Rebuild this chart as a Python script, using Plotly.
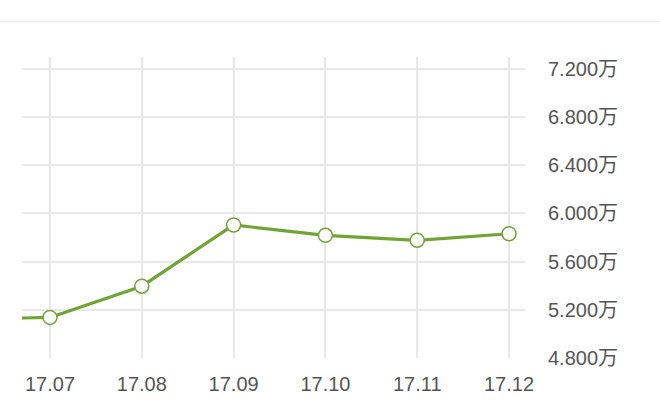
import plotly.graph_objects as go

months = ["17.06", "17.07", "17.08", "17.09", "17.10", "17.11", "17.12"]
values = [5.12, 5.137, 5.396, 5.904, 5.818, 5.777, 5.831]  # 单位：万
y_tickvals = [4.8, 5.2, 5.6, 6.0, 6.4, 6.8, 7.2]
y_ticktext = ["4.800万", "5.200万", "5.600万", "6.000万", "6.400万", "6.800万", "7.200万"]

line_color = "#70a533"
grid_color = "#e8e8e8"
text_color = "#555555"
font_family = "Liberation Sans, Noto Sans CJK SC, sans-serif"

fig = go.Figure()
fig.add_trace(go.Scatter(
    x=months, y=values, mode="lines+markers",
    line=dict(color=line_color, width=3.2),
    marker=dict(size=14, color="white", line=dict(color=line_color, width=1.5)),
    hoverinfo="skip",
))

fig.update_layout(
    width=660, height=407,
    margin=dict(l=22, r=135, t=57, b=44),
    paper_bgcolor="white", plot_bgcolor="white",
    showlegend=False,
    font=dict(family=font_family, color=text_color),
    xaxis=dict(
        type="category", categoryarray=months,
        range=[0.695, 6.174],
        showgrid=True, gridcolor=grid_color, gridwidth=1.5,
        showline=False, zeroline=False, ticks="",
        tickfont=dict(size=20, color=text_color),
        ticklabelstandoff=12,
    ),
    yaxis=dict(
        side="right", range=[4.8, 7.298],
        tickvals=y_tickvals, ticktext=y_ticktext,
        showgrid=True, gridcolor=grid_color, gridwidth=1.5,
        showline=False, zeroline=False, ticks="",
        tickfont=dict(size=20, color=text_color),
        ticklabelstandoff=22,
    ),
    shapes=[dict(type="line", xref="paper", yref="paper",
                 x0=-0.05, x1=1.3, y0=1.1176, y1=1.1176,
                 line=dict(color="#eeeeee", width=1.5))],
)

fig.write_html("out.html", config={"displayModeBar": False},
               post_script="document.body.style.margin='0';")
